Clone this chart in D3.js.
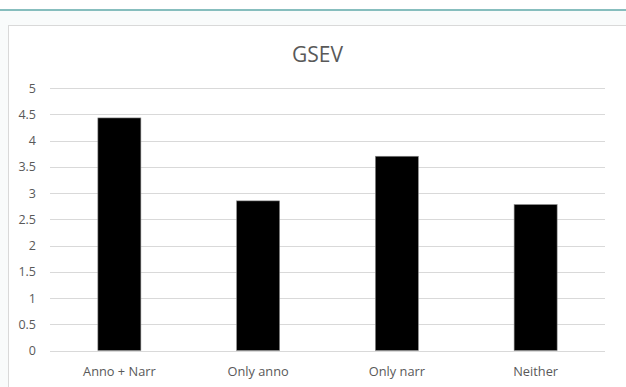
<!DOCTYPE html>
<html>
<head>
<meta charset="utf-8">
<script src="https://cdn.jsdelivr.net/npm/d3@7/dist/d3.min.js"></script>
<style>
  html, body { margin: 0; padding: 0; background: #ffffff; }
  svg { display: block; }
</style>
</head>
<body>
<script>
// GSEV score by condition
const categories = ["Anno + Narr", "Only anno", "Only narr", "Neither"];
const values = [4.43, 2.85, 3.70, 2.78];
const yTicks = [0, 0.5, 1, 1.5, 2, 2.5, 3, 3.5, 4, 4.5, 5];
const title = "GSEV";

const W = 626, H = 387;
const plot = { left: 50, right: 605, top: 88, bottom: 350.5 };
const font = "'Open Sans', 'Noto Sans', sans-serif";
const textColor = "#595959";

const svg = d3.select("body").append("svg")
  .attr("width", W).attr("height", H);

// page band and chart frame
svg.append("rect").attr("x", 0).attr("y", 10).attr("width", W).attr("height", H - 10)
  .attr("fill", "#f9fbfb");
svg.append("line").attr("x1", 0).attr("x2", W).attr("y1", 10).attr("y2", 10)
  .attr("stroke", "#5fa8a8").attr("stroke-width", 1.6);
svg.append("rect").attr("x", 8.5).attr("y", 25.5).attr("width", W + 20).attr("height", H)
  .attr("fill", "#ffffff").attr("stroke", "#d9d9d9").attr("stroke-width", 1);

const x = d3.scaleBand().domain(categories).range([plot.left, plot.right])
  .paddingInner(0.69).paddingOuter(0.345);
const y = d3.scaleLinear().domain([0, 5]).range([plot.bottom, plot.top]);

// gridlines
svg.append("g").selectAll("line").data(yTicks).join("line")
  .attr("x1", plot.left).attr("x2", plot.right)
  .attr("y1", d => Math.round(y(d)) + 0.5).attr("y2", d => Math.round(y(d)) + 0.5)
  .attr("stroke", "#d9d9d9").attr("stroke-width", 1);

// y axis labels
const yAxis = d3.axisLeft(y).tickValues(yTicks).tickSize(0).tickPadding(0)
  .tickFormat(d3.format("~g"));
const gy = svg.append("g").attr("transform", `translate(${plot.left - 14},0)`).call(yAxis);
gy.select(".domain").remove();
gy.selectAll("text").attr("font-family", font).attr("font-size", 12.5)
  .attr("fill", textColor);

// bars
svg.append("g").selectAll("rect").data(values).join("rect")
  .attr("x", (d, i) => x(categories[i]))
  .attr("width", x.bandwidth())
  .attr("y", d => y(d))
  .attr("height", d => y(0) - y(d))
  .attr("fill", "#000000")
  .attr("stroke", "#8c8c8c").attr("stroke-width", 0.6);

// x axis labels
const xAxis = d3.axisBottom(x).tickSize(0).tickPadding(0);
const gx = svg.append("g").attr("transform", `translate(0,${plot.bottom + 16})`).call(xAxis);
gx.select(".domain").remove();
gx.selectAll("text").attr("font-family", font).attr("font-size", 12.8)
  .attr("fill", textColor).attr("dy", "0.71em");

// title
svg.append("text").attr("x", 317.5).attr("y", 61.5)
  .attr("text-anchor", "middle")
  .attr("font-family", font).attr("font-size", 21)
  .attr("fill", textColor).text(title);
</script>
</body>
</html>
